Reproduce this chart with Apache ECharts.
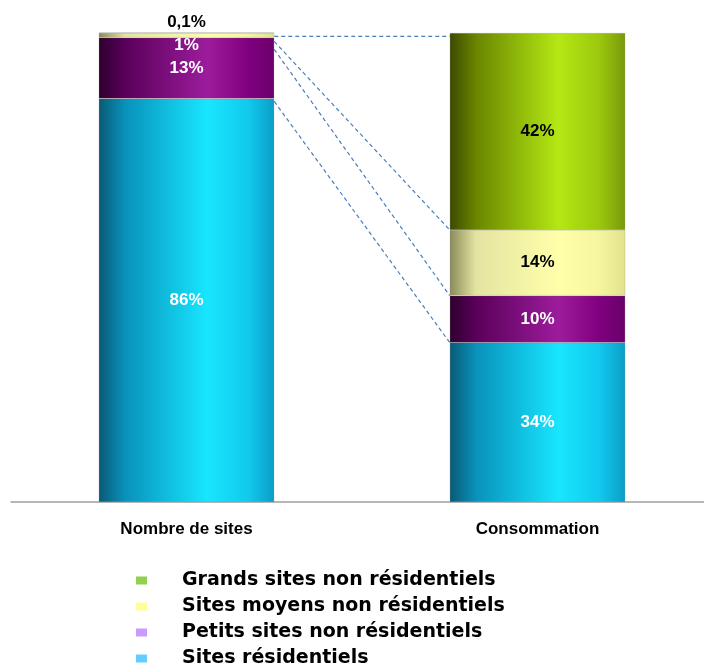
<!DOCTYPE html>
<html>
<head>
<meta charset="utf-8">
<script src="https://cdn.jsdelivr.net/npm/echarts@6/dist/echarts.min.js"></script>
<style>
  html, body { margin: 0; padding: 0; background: #fff; }
  #chart { width: 704px; height: 668px; }
</style>
</head>
<body>
<div id="chart"></div>
<script>
  // categories and values (percent)
  const categories = ['Nombre de sites', 'Consommation'];
  const seriesNames = ['Sites résidentiels', 'Petits sites non résidentiels', 'Sites moyens non résidentiels', 'Grands sites non résidentiels'];
  const residentiels = [86, 34];
  const petits = [13, 10];
  const moyens = [1, 14];
  const grands = [0.1, 42];
  const residentielsLabels = ['86%', '34%'];
  const petitsLabels = ['13%', '10%'];
  const moyensLabels = ['1%', '14%'];
  const grandsLabels = ['0,1%', '42%'];
  const legendOrder = ['Grands sites non résidentiels', 'Sites moyens non résidentiels', 'Petits sites non résidentiels', 'Sites résidentiels'];
  const legendColors = ['#92d050', '#ffff99', '#cc99ff', '#66ccff'];

  const chart = echarts.init(document.getElementById('chart'));

  // cylinder-like shading for the bars
  const grad = (stops) => new echarts.graphic.LinearGradient(0, 0, 1, 0,
    stops.map((c, i) => ({ offset: [0, 0.15, 0.62, 0.85, 1][i], color: c })));
  const fills = [
    grad(['#0a5a74', '#0892bb', '#18e6ff', '#12c9ee', '#0a9ec6']),
    grad(['#2e002e', '#5a005a', '#9c1c9c', '#800080', '#6a006a']),
    grad(['#8a8a5c', '#e4e4a2', '#ffffaa', '#f6f6a0', '#e2e28e']),
    grad(['#3c4a00', '#6a8600', '#b4e814', '#9cc80e', '#7a9a0a'])
  ];

  const labelFont = { fontFamily: '"Liberation Sans", Arial', fontWeight: 'bold', fontSize: 17 };

  function barSeries(idx, values, labels, colorsTxt, extra) {
    return {
      name: seriesNames[idx],
      type: 'bar',
      stack: 'total',
      barWidth: '50%',
      clip: false,
      itemStyle: { color: fills[idx], borderColor: 'rgba(110,110,110,0.35)', borderWidth: 0.6 },
      data: values.map((v, i) => {
        const lab = Object.assign({
          show: true, position: 'inside', color: colorsTxt[i],
          formatter: labels[i]
        }, labelFont, (extra && extra[i]) || {});
        return { value: v, label: lab };
      })
    };
  }

  // connector lines from the left bar's boundaries to the right bar's boundaries
  const leftEdge = 0.75, rightEdge = 1.25;
  const cumLeft = [99.3, residentiels[0] + petits[0] + moyens[0] - 1.8, residentiels[0] + petits[0] - 2.5, residentiels[0] - 0.6];
  const cumRight = [99.3, residentiels[1] + petits[1] + moyens[1], residentiels[1] + petits[1], residentiels[1]];
  const connectors = cumLeft.map((v, i) => ({
    type: 'line',
    xAxisIndex: 1,
    yAxisIndex: 0,
    symbol: 'none',
    silent: true,
    z: 5,
    lineStyle: { color: '#4a7ebb', width: 1.2, type: [4, 3] },
    data: [[leftEdge, v], [rightEdge, cumRight[i]]]
  }));

  const option = {
    animation: false,
    grid: { left: 11, top: 33, width: 702, height: 469, outerBoundsMode: 'none' },
    xAxis: [{
      type: 'category',
      data: categories,
      axisLine: { lineStyle: { color: '#a0a0a0', width: 1.5 } },
      axisTick: { length: 7, lineStyle: { color: '#a0a0a0', width: 1.5 } },
      axisLabel: {
        margin: 19, color: '#000',
        fontFamily: '"Liberation Sans", Arial', fontWeight: 'bold', fontSize: 17
      }
    }, {
      type: 'value', min: 0, max: 2, show: false
    }],
    yAxis: { type: 'value', min: 0, max: 100, show: false },
    legend: {
      orient: 'vertical',
      left: 131,
      top: 566,
      height: 200,
      itemWidth: 11,
      itemHeight: 8,
      itemGap: 7,
      icon: 'rect',
      textStyle: {
        fontFamily: '"DejaVu Sans", "Liberation Sans", Arial', fontWeight: 'bold', fontSize: 19, color: '#000',
        padding: [0, 0, 0, 30], lineHeight: 19
      },
      data: legendOrder.map((n, i) => ({ name: n, itemStyle: { color: legendColors[i], borderWidth: 0 } }))
    },
    series: [
      barSeries(0, residentiels, residentielsLabels, ['#fff', '#fff']),
      barSeries(1, petits, petitsLabels, ['#fff', '#fff']),
      barSeries(2, moyens, moyensLabels, ['#fff', '#000'], [{ offset: [0, 10] }, null]),
      barSeries(3, grands, grandsLabels, ['#000', '#000'], [{ position: 'top', distance: 2 }, null])
    ].concat(connectors)
  };

  chart.setOption(option);
</script>
</body>
</html>
